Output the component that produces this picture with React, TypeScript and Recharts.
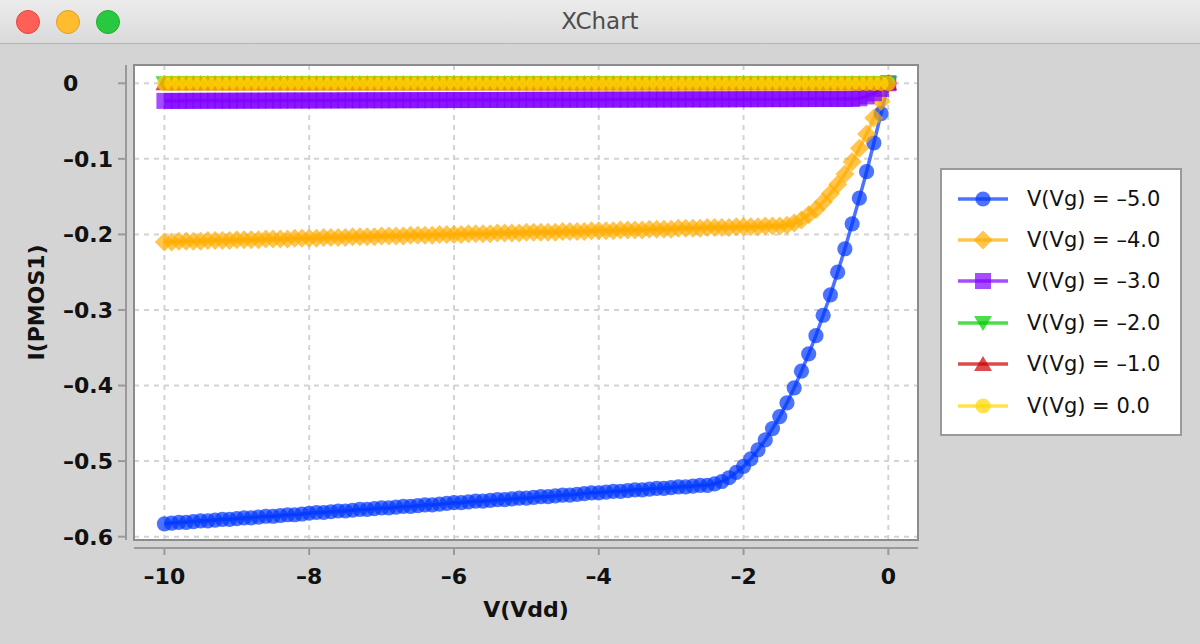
import { LineChart, Line, XAxis, YAxis, CartesianGrid, ReferenceArea, Legend, Label } from 'recharts'

// drain voltage sweep, -10 V .. 0 V in 0.1 V steps
const vdd = [
  -10, -9.9, -9.8, -9.7, -9.6, -9.5, -9.4, -9.3, -9.2, -9.1,
  -9, -8.9, -8.8, -8.7, -8.6, -8.5, -8.4, -8.3, -8.2, -8.1,
  -8, -7.9, -7.8, -7.7, -7.6, -7.5, -7.4, -7.3, -7.2, -7.1,
  -7, -6.9, -6.8, -6.7, -6.6, -6.5, -6.4, -6.3, -6.2, -6.1,
  -6, -5.9, -5.8, -5.7, -5.6, -5.5, -5.4, -5.3, -5.2, -5.1,
  -5, -4.9, -4.8, -4.7, -4.6, -4.5, -4.4, -4.3, -4.2, -4.1,
  -4, -3.9, -3.8, -3.7, -3.6, -3.5, -3.4, -3.3, -3.2, -3.1,
  -3, -2.9, -2.8, -2.7, -2.6, -2.5, -2.4, -2.3, -2.2, -2.1,
  -2, -1.9, -1.8, -1.7, -1.6, -1.5, -1.4, -1.3, -1.2, -1.1,
  -1, -0.9, -0.8, -0.7, -0.6, -0.5, -0.4, -0.3, -0.2, -0.1,
  0,
]

// I(PMOS1) for Vg = -5.0
const vg5 = [
  -0.583, -0.582, -0.581, -0.581, -0.58, -0.579, -0.579, -0.578, -0.577, -0.577,
  -0.576, -0.575, -0.575, -0.574, -0.573, -0.573, -0.572, -0.571, -0.571, -0.57,
  -0.569, -0.568, -0.568, -0.567, -0.566, -0.566, -0.565, -0.564, -0.564, -0.563,
  -0.562, -0.562, -0.561, -0.56, -0.56, -0.559, -0.558, -0.558, -0.557, -0.556,
  -0.555, -0.555, -0.554, -0.553, -0.553, -0.552, -0.551, -0.551, -0.55, -0.549,
  -0.549, -0.548, -0.547, -0.547, -0.546, -0.545, -0.545, -0.544, -0.543, -0.542,
  -0.542, -0.541, -0.54, -0.54, -0.539, -0.538, -0.538, -0.537, -0.536, -0.536,
  -0.535, -0.534, -0.534, -0.533, -0.532, -0.532, -0.53, -0.527, -0.522, -0.515,
  -0.507, -0.497, -0.485, -0.472, -0.457, -0.441, -0.423, -0.403, -0.381, -0.358,
  -0.334, -0.307, -0.28, -0.25, -0.219, -0.186, -0.152, -0.117, -0.079, -0.04,
  0,
]

// Vg = -4.0
const vg4 = [
  -0.21, -0.21, -0.209, -0.209, -0.209, -0.209, -0.208, -0.208, -0.208, -0.208,
  -0.207, -0.207, -0.207, -0.207, -0.206, -0.206, -0.206, -0.206, -0.205, -0.205,
  -0.205, -0.205, -0.204, -0.204, -0.204, -0.204, -0.203, -0.203, -0.203, -0.203,
  -0.202, -0.202, -0.202, -0.202, -0.201, -0.201, -0.201, -0.201, -0.2, -0.2,
  -0.2, -0.2, -0.199, -0.199, -0.199, -0.199, -0.198, -0.198, -0.198, -0.198,
  -0.197, -0.197, -0.197, -0.197, -0.197, -0.196, -0.196, -0.196, -0.196, -0.195,
  -0.195, -0.195, -0.195, -0.194, -0.194, -0.194, -0.194, -0.193, -0.193, -0.193,
  -0.193, -0.192, -0.192, -0.192, -0.192, -0.191, -0.191, -0.191, -0.191, -0.19,
  -0.19, -0.19, -0.19, -0.189, -0.189, -0.189, -0.188, -0.185, -0.181, -0.174,
  -0.167, -0.157, -0.146, -0.134, -0.12, -0.104, -0.086, -0.067, -0.046, -0.024,
  0,
]

// Vg = -3.0
const vg3 = [
  -0.0233, -0.0233, -0.0233, -0.0232, -0.0232, -0.0232, -0.0231, -0.0231, -0.0231, -0.0231,
  -0.023, -0.023, -0.023, -0.023, -0.0229, -0.0229, -0.0229, -0.0228, -0.0228, -0.0228,
  -0.0228, -0.0227, -0.0227, -0.0227, -0.0227, -0.0226, -0.0226, -0.0226, -0.0225, -0.0225,
  -0.0225, -0.0225, -0.0224, -0.0224, -0.0224, -0.0224, -0.0223, -0.0223, -0.0223, -0.0222,
  -0.0222, -0.0222, -0.0222, -0.0221, -0.0221, -0.0221, -0.0221, -0.022, -0.022, -0.022,
  -0.0219, -0.0219, -0.0219, -0.0219, -0.0218, -0.0218, -0.0218, -0.0218, -0.0217, -0.0217,
  -0.0217, -0.0216, -0.0216, -0.0216, -0.0216, -0.0215, -0.0215, -0.0215, -0.0214, -0.0214,
  -0.0214, -0.0214, -0.0213, -0.0213, -0.0213, -0.0213, -0.0212, -0.0212, -0.0212, -0.0211,
  -0.0211, -0.0211, -0.0211, -0.021, -0.021, -0.021, -0.021, -0.0209, -0.0209, -0.0209,
  -0.0208, -0.0208, -0.0208, -0.0208, -0.0207, -0.0207, -0.0199, -0.0174, -0.0132, -0.0074,
  0,
]

// Vg = -2.0, -1.0 and 0.0 stay below threshold: no current
const vgOff = [
  0, 0, 0, 0, 0, 0, 0, 0, 0, 0,
  0, 0, 0, 0, 0, 0, 0, 0, 0, 0,
  0, 0, 0, 0, 0, 0, 0, 0, 0, 0,
  0, 0, 0, 0, 0, 0, 0, 0, 0, 0,
  0, 0, 0, 0, 0, 0, 0, 0, 0, 0,
  0, 0, 0, 0, 0, 0, 0, 0, 0, 0,
  0, 0, 0, 0, 0, 0, 0, 0, 0, 0,
  0, 0, 0, 0, 0, 0, 0, 0, 0, 0,
  0, 0, 0, 0, 0, 0, 0, 0, 0, 0,
  0, 0, 0, 0, 0, 0, 0, 0, 0, 0,
  0,
]

const xTicks = [-10, -8, -6, -4, -2, 0]
const yTicks = [0, -0.1, -0.2, -0.3, -0.4, -0.5, -0.6]
const xDomain = [-10.42, 0.41]
const yDomain = [-0.6044, 0.0242]

const SERIES = [
  { key: 'vg5', name: 'V(Vg) = –5.0', color: 'rgba(0, 55, 255, 0.7)', marker: 'circle' },
  { key: 'vg4', name: 'V(Vg) = –4.0', color: 'rgba(255, 172, 0, 0.7)', marker: 'diamond' },
  { key: 'vg3', name: 'V(Vg) = –3.0', color: 'rgba(128, 0, 255, 0.7)', marker: 'square' },
  { key: 'vg2', name: 'V(Vg) = –2.0', color: 'rgba(0, 205, 0, 0.7)', marker: 'triangleDown' },
  { key: 'vg1', name: 'V(Vg) = –1.0', color: 'rgba(205, 0, 0, 0.7)', marker: 'triangleUp' },
  { key: 'vg0', name: 'V(Vg) = 0.0', color: 'rgba(255, 215, 0, 0.7)', marker: 'circle' },
]

const data = vdd.map((v, i) => ({
  vdd: v,
  vg5: vg5[i],
  vg4: vg4[i],
  vg3: vg3[i],
  vg2: vgOff[i],
  vg1: vgOff[i],
  vg0: vgOff[i],
}))

const FONT = '"DejaVu Sans", sans-serif'
const AXIS = '#999'

const fmt = (v: number, digits: number) => (v === 0 ? '0' : '–' + Math.abs(v).toFixed(digits))

function Marker({ shape, x, y, fill }: { shape: string; x: number; y: number; fill: string }) {
  if (shape === 'circle') return <circle cx={x} cy={y} r={7.6} fill={fill} />
  if (shape === 'square') return <rect x={x - 8} y={y - 8} width={16} height={16} fill={fill} />
  if (shape === 'diamond')
    return <polygon points={`${x},${y - 9.5} ${x + 9.5},${y} ${x},${y + 9.5} ${x - 9.5},${y}`} fill={fill} />
  if (shape === 'triangleDown')
    return <polygon points={`${x - 9},${y - 7} ${x + 9},${y - 7} ${x},${y + 8}`} fill={fill} />
  return <polygon points={`${x - 9},${y + 7} ${x + 9},${y + 7} ${x},${y - 8}`} fill={fill} />
}

const makeDot = (shape: string, color: string) => (p: any) => {
  if (p.cx == null || p.cy == null) return <g key={p.index} />
  return <Marker key={p.index} shape={shape} x={p.cx} y={p.cy} fill={color} />
}

const YTick = ({ x, y, payload }: any) => (
  <text x={x - 63} y={y} dy="0.36em" textAnchor="start" fontFamily={FONT} fontSize={22} fontWeight="bold" fill="#111">
    {fmt(payload.value, 1)}
  </text>
)

const XTick = ({ x, y, payload }: any) => (
  <text x={x} y={y} dy="0.71em" textAnchor="middle" fontFamily={FONT} fontSize={22} fontWeight="bold" fill="#111">
    {fmt(payload.value, 0)}
  </text>
)

const YTitle = ({ viewBox }: any) => {
  const cx = (viewBox?.x ?? 34) + 10
  const cy = (viewBox?.y ?? 65) + (viewBox?.height ?? 475) / 2
  return (
    <text x={cx} y={cy} transform={`rotate(-90 ${cx} ${cy})`} textAnchor="middle" fontFamily={FONT} fontSize={22} fontWeight="bold" fill="#111">
      I(PMOS1)
    </text>
  )
}

const XTitle = ({ viewBox }: any) => {
  const cx = (viewBox?.x ?? 134) + (viewBox?.width ?? 784) / 2
  const cy = (viewBox?.y ?? 540) + 77
  return (
    <text x={cx} y={cy} textAnchor="middle" fontFamily={FONT} fontSize={22} fontWeight="bold" fill="#111">
      V(Vdd)
    </text>
  )
}

const LegendBox = () => (
  <div style={{ paddingLeft: 22 }}>
    <div
      style={{
        width: 242,
        height: 268,
        boxSizing: 'border-box',
        background: '#fff',
        border: '2px solid #9a9a9a',
        padding: '8px 0',
      }}
    >
      {SERIES.map((s) => (
        <div key={s.key} style={{ height: 41.4, display: 'flex', alignItems: 'center' }}>
          <svg width={56} height={22} style={{ marginLeft: 14, overflow: 'visible' }}>
            <line x1={2} x2={52} y1={11} y2={11} stroke={s.color} strokeWidth={3.5} />
            <Marker shape={s.marker} x={27} y={11} fill={s.color} />
          </svg>
          <span style={{ marginLeft: 15, fontFamily: FONT, fontSize: 21, color: '#111', whiteSpace: 'nowrap' }}>{s.name}</span>
        </div>
      ))}
    </div>
  </div>
)

const lights = [
  { bg: '#fe5f57', border: '#e2463f' },
  { bg: '#febc2e', border: '#dfa023' },
  { bg: '#28c840', border: '#1dad2b' },
]

export default function App() {
  return (
    <div style={{ position: 'fixed', left: 0, top: 0, width: 1200, height: 644, background: '#d4d4d4', overflow: 'hidden' }}>
      <LineChart width={1200} height={644} data={data} margin={{ top: 65, right: 18, bottom: 14, left: 34 }}>
        <CartesianGrid strokeDasharray="5 5" stroke="#d3d3d3" strokeWidth={2} fill="#fff" fillOpacity={1} />
        <XAxis
          type="number"
          dataKey="vdd"
          domain={xDomain}
          allowDataOverflow
          ticks={xTicks}
          interval={0}
          height={90}
          tickSize={7}
          tickMargin={21}
          tick={<XTick />}
          axisLine={{ stroke: AXIS, strokeWidth: 2, transform: 'translate(0 8)' }}
          tickLine={{ stroke: AXIS, strokeWidth: 2, transform: 'translate(0 8)' }}
        >
          <Label content={XTitle} />
        </XAxis>
        <YAxis
          type="number"
          domain={yDomain}
          allowDataOverflow
          ticks={yTicks}
          interval={0}
          width={100}
          tickSize={8}
          tickMargin={0}
          tick={<YTick />}
          axisLine={{ stroke: AXIS, strokeWidth: 2, transform: 'translate(-8 0)' }}
          tickLine={{ stroke: AXIS, strokeWidth: 2, transform: 'translate(-8 0)' }}
        >
          <Label content={YTitle} />
        </YAxis>
        <ReferenceArea
          x1={xDomain[0]}
          x2={xDomain[1]}
          y1={yDomain[0]}
          y2={yDomain[1]}
          fill="none"
          stroke="#8c8c8c"
          strokeWidth={2}
          ifOverflow="visible"
        />
        {SERIES.map((s) => (
          <Line
            key={s.key}
            type="linear"
            dataKey={s.key}
            name={s.name}
            stroke={s.color}
            strokeWidth={3.5}
            dot={makeDot(s.marker, s.color)}
            activeDot={false}
            isAnimationActive={false}
          />
        ))}
        <Legend
          layout="vertical"
          align="right"
          verticalAlign="middle"
          width={264}
          wrapperStyle={{ top: 168, right: 18 }}
          content={() => <LegendBox />}
        />
      </LineChart>
      <div
        style={{
          position: 'absolute',
          left: 0,
          top: 0,
          width: 1200,
          height: 43,
          borderBottom: '1px solid #b3b3b3',
          background: 'linear-gradient(#ececec, #dadada)',
        }}
      >
        {lights.map((l, i) => (
          <div
            key={i}
            style={{
              position: 'absolute',
              left: 16 + i * 40,
              top: 10,
              width: 24,
              height: 24,
              boxSizing: 'border-box',
              borderRadius: '50%',
              background: l.bg,
              border: `1px solid ${l.border}`,
            }}
          />
        ))}
        <div
          style={{
            textAlign: 'center',
            lineHeight: '43px',
            fontFamily: FONT,
            fontSize: 23,
            color: '#4d4d4d',
          }}
        >
          XChart
        </div>
      </div>
    </div>
  )
}
